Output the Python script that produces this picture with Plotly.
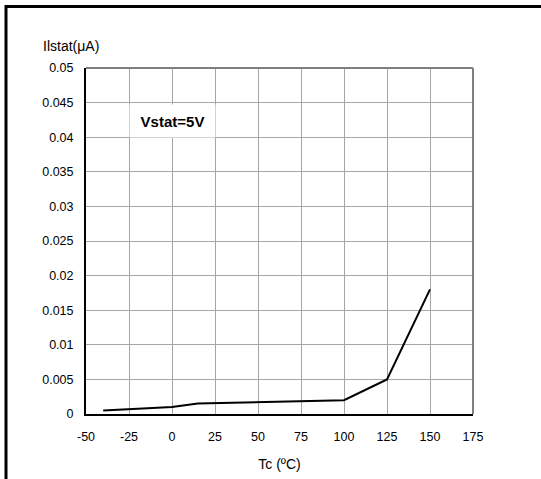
import plotly.graph_objects as go

# Data
temps_c = [-40, 0, 15, 100, 125, 150]
ilstat_ua = [0.0005, 0.001, 0.0015, 0.002, 0.005, 0.018]

x_ticks = [-50, -25, 0, 25, 50, 75, 100, 125, 150, 175]
x_tick_labels = ["-50", "-25", "0", "25", "50", "75", "100", "125", "150", "175"]
y_ticks = [0, 0.005, 0.01, 0.015, 0.02, 0.025, 0.03, 0.035, 0.04, 0.045, 0.05]
y_tick_labels = ["0", "0.005", "0.01", "0.015", "0.02", "0.025", "0.03",
                 "0.035", "0.04", "0.045", "0.05"]

W, H = 541, 479
L, R, T, B = 86, 68, 68, 65
pw, ph = W - L - R, H - T - B

def px(x):
    return (x - L) / pw

def py(y):
    return (H - B - y) / ph

FONT = "Liberation Sans, Arial, sans-serif"
GRID = "#a6a6a6"

fig = go.Figure()
fig.add_trace(go.Scatter(x=temps_c, y=ilstat_ua, mode="lines",
                         line=dict(color="black", width=2), showlegend=False,
                         hoverinfo="skip"))

fig.update_layout(
    width=W, height=H,
    margin=dict(l=L, r=R, t=T, b=B, pad=0, autoexpand=False),
    paper_bgcolor="white", plot_bgcolor="white",
    font=dict(family=FONT, size=12, color="black"),
    xaxis=dict(range=[-50, 175], tickvals=x_ticks, ticktext=x_tick_labels,
               showgrid=True, gridcolor=GRID, gridwidth=1, zeroline=False,
               showline=True, linecolor="black", linewidth=2,
               ticks="outside", ticklen=10, tickcolor="rgba(0,0,0,0)",
               tickfont=dict(size=12.5),
               title=dict(text="Tc (ºC)", standoff=16, font=dict(size=14))),
    yaxis=dict(range=[0, 0.05], tickvals=y_ticks, ticktext=y_tick_labels,
               showgrid=True, gridcolor=GRID, gridwidth=1, zeroline=False,
               showline=True, linecolor="black", linewidth=2,
               ticks="outside", ticklen=8, tickcolor="rgba(0,0,0,0)",
               tickfont=dict(size=12.5)),
    shapes=[
        # top and right plot frame (gray)
        dict(type="line", xref="paper", yref="paper", x0=0, x1=1, y0=1, y1=1,
             line=dict(color="#808080", width=2)),
        dict(type="line", xref="paper", yref="paper", x0=1, x1=1, y0=0, y1=1,
             line=dict(color="#808080", width=2)),
        # outer page border (top and left)
        dict(type="line", xref="paper", yref="paper", x0=px(5), x1=px(541),
             y0=py(6.5), y1=py(6.5), line=dict(color="black", width=3)),
        dict(type="line", xref="paper", yref="paper", x0=px(6), x1=px(6),
             y0=py(5), y1=py(479), line=dict(color="black", width=3)),
    ],
    annotations=[
        dict(text="Ilstat(μA)", xref="paper", yref="paper", x=px(41), y=py(46),
             xanchor="left", yanchor="middle", showarrow=False,
             font=dict(size=14)),
        dict(text="<b>Vstat=5V</b>", x=0.5, y=0.0424, xref="x", yref="y",
             showarrow=False, bgcolor="white", font=dict(size=15),
             borderpad=0, width=85, height=32),
    ],
)

fig.write_html("out.html", config={"displayModeBar": False},
               post_script="document.body.style.margin='0';")
